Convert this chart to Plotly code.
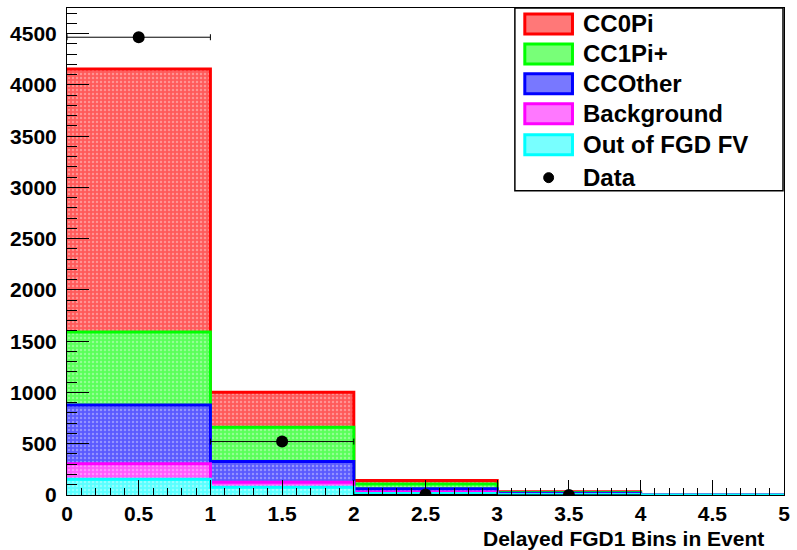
import numpy as np
import plotly.graph_objects as go

# ---- data ----
bin_edges = [0, 1, 2, 3, 4, 5]
components = ["CC0Pi", "CC1Pi+", "CCOther", "Background", "Out of FGD FV"]
cc0pi = [2566, 341, 33, 7, 0]
cc1pi = [712, 334, 46, 6, 0]
ccother = [574, 201, 32, 10, 0]
background = [150, 49, 15, 4, 0]
out_fgd = [154, 76, 15, 4, 0]
data_x = [0.5, 1.5, 2.5, 3.5]
data_y = [4465, 521, 5, 1]
data_xerr = [0.5, 0.5, 0.5, 0.5]

colors = ["#ff0000", "#00ff00", "#0000ff", "#ff00ff", "#00ffff"]
fill_bg = ["#ff5a5a", "#5aff5a", "#5a5aff", "#ff5aff", "#5affff"]
fill_fg = ["#ffcccc", "#ccffcc", "#ccccff", "#ffccff", "#ccffff"]
swatch = ["#ff7878", "#78ff78", "#7878ff", "#ff78ff", "#78ffff"]

# stacked cumulative values (bottom -> top order: out_fgd, background, ccother, cc1pi, cc0pi)
stack_order = [out_fgd, background, ccother, cc1pi, cc0pi]
cum = np.cumsum(np.array(stack_order, dtype=float), axis=0)
cum_by_comp = [cum[4], cum[3], cum[2], cum[1], cum[0]]

FONT = "Liberation Sans"
W, H = 797, 550
L, R, T, B = 67, 8, 7, 55
PW, PH = W - L - R, H - T - B


def px2x(px):
    return (px - L) / PW


def py2y(py):
    return (H - B - py) / PH


fig = go.Figure()

edges = np.array(bin_edges, dtype=float)
for name, vals, col, bg, fg in zip(components, cum_by_comp, colors, fill_bg, fill_fg):
    xs, ys = [edges[0]], [0.0]
    for i, v in enumerate(vals):
        xs += [edges[i], edges[i + 1]]
        ys += [v, v]
    xs += [edges[-1]]
    ys += [0.0]
    fig.add_trace(go.Scatter(
        x=xs, y=ys, mode="lines", fill="toself", fillcolor=bg,
        fillpattern=dict(shape=".", fgcolor=fg, bgcolor=bg, size=4, solidity=0.3),
        line=dict(width=0), hoverinfo="skip", showlegend=False))
    sx = list(edges)
    sy = list(vals) + [vals[-1]]
    fig.add_trace(go.Scatter(
        x=sx, y=sy, mode="lines", line=dict(color=col, width=3, shape="hv"),
        hoverinfo="skip", showlegend=False))

fig.add_trace(go.Scatter(
    x=data_x, y=data_y, mode="markers",
    marker=dict(color="black", size=12, symbol="circle"),
    error_x=dict(type="data", array=data_xerr, color="black", thickness=1, width=3),
    showlegend=False, name="Data"))

axis_common = dict(
    showline=True, linecolor="black", linewidth=1, mirror=True,
    ticks="inside", tickcolor="black", showgrid=False, zeroline=False,
    tickfont=dict(family=FONT, size=21, color="black", weight="bold"),
)

fig.update_xaxes(range=[0, 5], dtick=0.5, tick0=0, ticklen=15,
                 ticklabelstandoff=0,
                 minor=dict(dtick=0.1, ticklen=7, ticks="inside", tickcolor="black"),
                 **axis_common)
fig.update_yaxes(range=[0, 4750], dtick=500, tick0=0, ticklen=22, tickformat="d",
                 ticklabelstandoff=5,
                 minor=dict(dtick=100, ticklen=10, ticks="inside", tickcolor="black"),
                 **axis_common)

shapes = []
annotations = []

# legend box
shapes.append(dict(type="rect", xref="paper", yref="paper",
                   x0=px2x(518), x1=px2x(788), y0=py2y(190), y1=py2y(7),
                   line=dict(color="black", width=1.5), fillcolor="white", layer="above"))
row_y = [23, 53, 83, 113, 144, 177]
for i, (name, col, sw) in enumerate(zip(components, colors, swatch)):
    cy = row_y[i]
    shapes.append(dict(type="rect", xref="paper", yref="paper",
                       x0=px2x(528), x1=px2x(576), y0=py2y(cy + 10), y1=py2y(cy - 10),
                       line=dict(color=col, width=3), fillcolor=sw, layer="above"))
    annotations.append(dict(x=px2x(585), y=py2y(cy), xref="paper", yref="paper",
                            text=name, showarrow=False, xanchor="left", yanchor="middle",
                            font=dict(family=FONT, size=24, color="black", weight="bold")))
cy = row_y[5]
shapes.append(dict(type="circle", xref="paper", yref="paper",
                   x0=px2x(547), x1=px2x(557), y0=py2y(cy + 5), y1=py2y(cy - 5),
                   line=dict(color="black", width=1), fillcolor="black", layer="above"))
annotations.append(dict(x=px2x(585), y=py2y(cy), xref="paper", yref="paper",
                        text="Data", showarrow=False, xanchor="left", yanchor="middle",
                        font=dict(family=FONT, size=24, color="black", weight="bold")))

annotations.append(dict(x=px2x(771), y=py2y(539), xref="paper", yref="paper",
                        text="Delayed FGD1 Bins in Event", showarrow=False,
                        xanchor="right", yanchor="middle",
                        font=dict(family=FONT, size=21, color="black", weight="bold")))

fig.update_layout(
    width=W, height=H, margin=dict(l=L, r=R, t=T, b=B),
    paper_bgcolor="white", plot_bgcolor="white",
    shapes=shapes, annotations=annotations, showlegend=False,
)

fig.write_html("out.html")
